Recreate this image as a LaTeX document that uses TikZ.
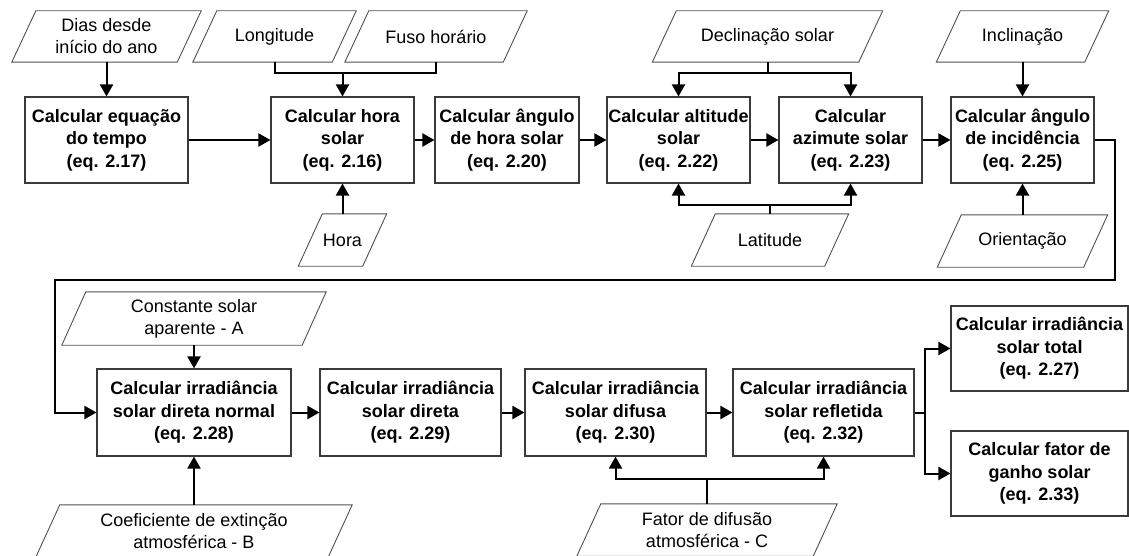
\documentclass[tikz,border=0pt]{standalone}
\usepackage{fontspec}
\setmainfont{Liberation Sans}
\usetikzlibrary{arrows.meta}
\definecolor{bordgray}{HTML}{3A3A3A}
\definecolor{pgray}{HTML}{505050}
\newcommand\parab[1]{\draw[pbord] ([xshift=-12pt]#1.south west) -- ([xshift=12pt]#1.north west) -- ([xshift=12pt]#1.north east) -- ([xshift=-12pt]#1.south east) -- cycle;}
\tikzset{
  box/.style={draw=bordgray, line width=1.1pt, minimum height=86pt, inner sep=0pt, align=center,
    font=\bfseries\fontsize{18}{22.5}\selectfont},
  inp/.style={minimum height=52pt, inner sep=0pt, align=center, font=\fontsize{18}{22}\selectfont},
  pbord/.style={draw=pgray, line width=0.9pt, line join=miter},
  conn/.style={draw=black, line width=2pt},
  arr/.style={conn, -{Triangle[length=12pt,width=13pt]}},
}
\begin{document}
\begin{tikzpicture}[x=1pt,y=-1pt]
\useasboundingbox (0,0) rectangle (1129,556);
% top row boxes
\node[box, minimum width=163pt] (b1) at (106.5,140) {Calcular equação\\do tempo\\(eq. 2.17)};
\node[box, minimum width=143pt] (b2) at (342.5,140) {Calcular hora\\solar\\(eq. 2.16)};
\node[box, minimum width=144pt] (b3) at (507,140) {Calcular ângulo\\de hora solar\\(eq. 2.20)};
\node[box, minimum width=143pt] (b4) at (678.5,140) {Calcular altitude\\solar\\(eq. 2.22)};
\node[box, minimum width=143pt] (b5) at (850.5,140) {Calcular\\azimute solar\\(eq. 2.23)};
\node[box, minimum width=143pt] (b6) at (1022.5,140) {Calcular ângulo\\de incidência\\(eq. 2.25)};
% bottom row boxes
\node[box, minimum width=194pt, minimum height=87pt] (b7) at (194,412.5) {Calcular irradiância\\solar direta normal\\(eq. 2.28)};
\node[box, minimum width=181pt, minimum height=87pt] (b8) at (410.5,412.5) {Calcular irradiância\\solar direta\\(eq. 2.29)};
\node[box, minimum width=181pt, minimum height=87pt] (b9) at (615.5,412.5) {Calcular irradiância\\solar difusa\\(eq. 2.30)};
\node[box, minimum width=181pt, minimum height=87pt] (b10) at (823.5,412.5) {Calcular irradiância\\solar refletida\\(eq. 2.32)};
\node[box, minimum width=177pt, minimum height=85pt] (b11) at (1039.5,348.5) {Calcular irradiância\\solar total\\(eq. 2.27)};
\node[box, minimum width=177pt, minimum height=85pt] (b12) at (1039.5,473.5) {Calcular fator de\\ganho solar\\(eq. 2.33)};
% inputs
\node[inp, minimum width=165pt, minimum height=51pt] (dias) at (106.5,36.5) {Dias desde\\início do ano};
\node[inp, minimum width=139pt, minimum height=51pt] (lon) at (274.5,36.5) {Longitude};
\node[inp, minimum width=158pt, minimum height=51pt] (fuso) at (436,36.5) {Fuso horário};
\node[inp, minimum width=64pt] (hora) at (342.5,240) {Hora};
\node[inp, minimum width=206pt, minimum height=51pt] (decl) at (767.5,36.5) {Declinação solar};
\node[inp, minimum width=133pt] (lat) at (770,240) {Latitude};
\node[inp, minimum width=148pt, minimum height=51pt] (incl) at (1022.5,36.5) {Inclinação};
\node[inp, minimum width=146pt] (ori) at (1022.5,241) {Orientação};
\node[inp, minimum width=240pt, minimum height=53pt] (const) at (194,318.5) {Constante solar\\aparente - A};
\node[inp, minimum width=292pt] (coef) at (194,531) {Coeficiente de extinção\\atmosférica - B};
\node[inp, minimum width=236pt] (fator) at (707,530) {Fator de difusão\\atmosférica - C};
\foreach \n in {dias,lon,fuso,hora,decl,lat,incl,ori,const,coef,fator} {\parab{\n}}
% junction coordinates
\coordinate (j1) at (342.5,73);
\coordinate (j2) at (767.5,73);
\coordinate (j3) at (770,205);
\coordinate (j4) at (707,479);
\coordinate (j5) at (925,412.5);
\coordinate (c1) at (1115,280);
\coordinate (c2) at (55,280);
% connectors top
\draw[arr] (dias.south) -- (b1.north);
\draw[conn] (lon.south) |- (j1);
\draw[conn] (fuso.south) |- (j1);
\draw[arr] (j1) -- (b2.north);
\draw[arr] (hora.north) -- (b2.south);
\draw[arr] (b1.east) -- (b2.west);
\draw[arr] (b2.east) -- (b3.west);
\draw[arr] (b3.east) -- (b4.west);
\draw[arr] (b4.east) -- (b5.west);
\draw[arr] (b5.east) -- (b6.west);
\draw[conn] (decl.south) -- (j2);
\draw[arr] (j2) -| (b4.north);
\draw[arr] (j2) -| (b5.north);
\draw[conn] (lat.north) -- (j3);
\draw[arr] (j3) -| (b4.south);
\draw[arr] (j3) -| (b5.south);
\draw[arr] (incl.south) -- (b6.north);
\draw[arr] (ori.north) -- (b6.south);
% loop to second row
\draw[arr] (b6.east) -| (c1) -- (c2) |- (b7.west);
% connectors bottom
\draw[arr] (const.south) -- (b7.north);
\draw[arr] (coef.north) -- (b7.south);
\draw[arr] (b7.east) -- (b8.west);
\draw[arr] (b8.east) -- (b9.west);
\draw[arr] (b9.east) -- (b10.west);
\draw[conn] (fator.north) -- (j4);
\draw[arr] (j4) -| (b9.south);
\draw[arr] (j4) -| (b10.south);
\draw[conn] (b10.east) -- (j5);
\draw[arr] (j5) |- (b11.west);
\draw[arr] (j5) |- (b12.west);
\end{tikzpicture}
\end{document}
